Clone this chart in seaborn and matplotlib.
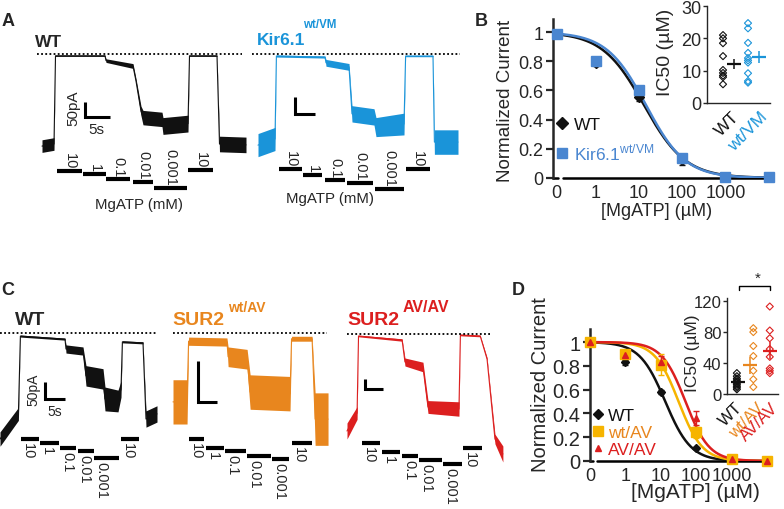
import numpy as np
import matplotlib.pyplot as plt
import seaborn as sns
from matplotlib.lines import Line2D

sns.set_style("ticks")
plt.rcParams["font.family"] = ["Liberation Sans", "DejaVu Sans"]
plt.rcParams["mathtext.fontset"] = "custom"
plt.rcParams["mathtext.rm"] = "Liberation Sans"
plt.rcParams["mathtext.bf"] = "Liberation Sans:bold"

# ---------------- data ----------------
MGATP_MM = ["10", "1", "0.1", "0.01", "0.001", "10"]

# patch-clamp traces: time (s), current (pA), noise half-width (pA)
A_WT_T = [0, 2.4, 2.7, 12.6, 12.8, 18.2, 18.8, 19.8, 20.2, 24.0, 24.2, 29.2, 29.5, 35.0, 35.5, 40.8]
A_WT_I = [-307, -300, -6, -6, -22, -40, -90, -190, -212, -218, -240, -232, -6, -6, -300, -303]
A_WT_N = [21, 21, 2, 2, 6, 8, 8, 16, 24, 24, 28, 28, 2, 2, 26, 26]
A_WT_BARS = [(3.0, 8.0), (8.2, 12.8), (12.8, 17.6), (18.2, 22.2), (22.4, 29.0), (29.2, 34.2)]

A_KIR_T = [0, 4.25, 4.6, 16.75, 17.0, 22.75, 23.5, 29.0, 29.5, 36.5, 36.9, 43.75, 44.1, 50.0]
A_KIR_I = [-268, -250, -6, -9, -26, -38, -176, -185, -215, -206, -6, -6, -259, -259]
A_KIR_N = [34, 34, 3, 3, 10, 10, 24, 24, 28, 32, 2, 2, 36, 36]
A_KIR_BARS = [(5.25, 11.0), (11.25, 16.0), (16.75, 21.75), (22.25, 28.75), (29.25, 36.5), (37.0, 43.0)]

C_WT_T = [0, 4.6, 5.1, 16.25, 16.5, 20.75, 21.5, 25.75, 26.25, 29.5, 30.25, 30.6, 35.75, 36.5, 39.25]
C_WT_I = [-312, -238, -9, -18, -47, -53, -126, -135, -194, -200, -165, -26, -29, -253, -238]
C_WT_N = [21, 19, 3, 3, 12, 12, 30, 30, 35, 32, 24, 3, 3, 24, 24]
C_WT_BARS = [(5.25, 9.75), (10.0, 14.75), (15.0, 19.1), (19.4, 23.4), (23.6, 29.75), (30.25, 34.75)]

C_HET_T = [0, 3.7, 4.1, 14.2, 14.5, 19.5, 20.3, 30.8, 31.2, 36.6, 37.4, 40.8]
C_HET_I = [-84, -84, -10, -11, -29, -32, -72, -74, -7, -7, -105, -105]
C_HET_N = [27, 27, 5, 5, 12, 12, 21, 21, 3, 3, 32, 32]
C_HET_BARS = [(4.2, 8.2), (8.7, 13.4), (13.7, 19.2), (19.5, 25.8), (26.1, 30.5), (31.3, 36.6)]

C_HOM_T = [0, 2.8, 3.2, 15.3, 16.1, 21.1, 22.5, 31.1, 31.5, 37.0, 38.9, 41.1, 43.3]
C_HOM_I = [-485, -395, -10, -30, -140, -165, -365, -375, -5, -10, -125, -525, -600]
C_HOM_N = [40, 32, 4, 6, 20, 24, 32, 36, 4, 4, 8, 24, 40]
C_HOM_BARS = [(4.2, 9.2), (9.7, 14.7), (15.3, 19.7), (20.0, 26.4), (26.7, 31.9), (32.2, 37.5)]

# dose-response (normalized current vs [MgATP] uM)
CONC_UM = [0, 1, 10, 100, 1000, 10000]
B_WT = [0.985, 0.79, 0.555, 0.12, 0.01, 0.005]
B_WT_ERR = [0.01, 0.02, 0.03, 0.03, 0.005, 0.003]
B_KIR = [0.985, 0.80, 0.605, 0.14, 0.01, 0.005]
B_KIR_ERR = [0.01, 0.02, 0.02, 0.02, 0.005, 0.003]
B_WT_FIT = (13.0, 0.9)      # IC50 (uM), Hill coefficient
B_KIR_FIT = (14.5, 0.95)

D_WT = [1.0, 0.83, 0.58, 0.11, 0.01, 0.0]
D_WT_ERR = [0.0, 0.02, 0.02, 0.01, 0.005, 0.0]
D_HET = [1.0, 0.90, 0.81, 0.24, 0.02, 0.0]
D_HET_ERR = [0.0, 0.03, 0.09, 0.05, 0.01, 0.0]
D_HOM = [1.0, 0.89, 0.83, 0.36, 0.02, 0.0]
D_HOM_ERR = [0.0, 0.02, 0.05, 0.06, 0.01, 0.0]
D_WT_FIT = (13.5, 1.2)
D_HET_FIT = (32.0, 1.3)
D_HOM_FIT = (50.0, 1.3)

# IC50 scatter insets (uM)
IC50_B_WT = [21.0, 20.0, 18.5, 14.5, 10.2, 9.3, 8.5, 8.0, 5.8]
IC50_B_KIR = [24.7, 23.1, 18.6, 15.5, 13.9, 13.2, 12.5, 9.2, 6.8, 6.3]
IC50_B_MEAN = [12.0, 14.2]
IC50_B_SEM = [1.6, 1.9]
IC50_D_WT = [27, 23, 20, 18, 16, 14, 12, 10, 8, 6]
IC50_D_HET = [85, 80, 62, 49, 30, 19, 9]
IC50_D_HOM = [113, 82, 72, 58, 48, 33, 30, 27]
IC50_D_MEAN = [16, 37, 56]
IC50_D_SEM = [2, 11, 11]

# ---------------- colours ----------------
BLACK = "#111111"
BLUE = "#1a94d9"
BLUE_FIT = "#4a86d0"
ORANGE = "#e8861e"
YELLOW = "#f6b400"
RED = "#dc1f1f"

W, H = 784, 510
fig = plt.figure(figsize=(W / 100, H / 100), dpi=100)


def add_ax(left, top, right, bottom):
    ax = fig.add_axes([left / W, 1 - bottom / H, (right - left) / W, (bottom - top) / H])
    ax.set_facecolor("none")
    return ax


def ftext(x, y, s, **kw):
    fig.text(x / W, 1 - y / H, s, **kw)


# ---------------- traces (panels A and C) ----------------
TRACES = [
    dict(t=A_WT_T, i=A_WT_I, n=A_WT_N, bars=A_WT_BARS, color=BLACK, box=(30, 48, 255, 225),
         x0=42, y0=55, sx=5.0, sy=0.30, bar_y=[172, 175, 180, 183, 189, 171], above=True,
         dots=(-1, 40), sbar=(8.6, -210)),
    dict(t=A_KIR_T, i=A_KIR_I, n=A_KIR_N, bars=A_KIR_BARS, color=BLUE, box=(250, 48, 465, 225),
         x0=258, y0=55, sx=4.0, sy=0.34, bar_y=[170, 176, 181, 184, 190, 170], above=True,
         dots=(-1.5, 50.5), sbar=(9.25, -176)),
    dict(t=C_WT_T, i=C_WT_I, n=C_WT_N, bars=C_WT_BARS, color=BLACK, box=(0, 328, 165, 510),
         x0=0, y0=334, sx=4.0, sy=0.34, bar_y=[440, 444, 449, 452, 459, 440], above=False,
         dots=(0, 39.25), sbar=(11.25, -194)),
    dict(t=C_HET_T, i=C_HET_I, n=C_HET_N, bars=C_HET_BARS, color=ORANGE, box=(168, 328, 335, 510),
         x0=173, y0=334, sx=3.8, sy=0.82, bar_y=[440, 449, 452, 457, 460, 444], above=False,
         dots=(0, 40.5), sbar=(6.6, -84)),
    dict(t=C_HOM_T, i=C_HOM_I, n=C_HOM_N, bars=C_HOM_BARS, color=RED, box=(340, 328, 510, 510),
         x0=347, y0=335, sx=3.6, sy=0.20, bar_y=[444, 453, 457, 461, 465, 449], above=False,
         dots=(0, 40.3), sbar=(5.0, -275)),
]


def draw_trace(cfg):
    left, top, right, bottom = cfg["box"]
    x0, y0, sx, sy = cfg["x0"], cfg["y0"], cfg["sx"], cfg["sy"]
    ax = add_ax(left, top, right, bottom)
    ax.set_xlim((left - x0) / sx, (right - x0) / sx)
    ax.set_ylim(-(bottom - y0) / sy, -(top - y0) / sy)
    ax.axis("off")
    t = np.array(cfg["t"], float)
    cur = np.array(cfg["i"], float)
    nz = np.array(cfg["n"], float)
    ax.fill_between(t, cur - nz, cur + nz, color=cfg["color"], lw=0)
    ax.plot(t, cur, color=cfg["color"], lw=0.8)
    ax.plot(cfg["dots"], [0, 0], color="k", lw=1.3, ls=(0, (1, 1.3)))

    def py(y):
        return -(y - y0) / sy

    for (t1, t2), yb, lab in zip(cfg["bars"], cfg["bar_y"], MGATP_MM):
        ax.plot([t1, t2], [py(yb), py(yb)], color="k", lw=3, solid_capstyle="butt")
        if cfg["above"]:
            ax.text((t1 + t2) / 2, py(yb - 3), lab, rotation=-90, ha="center", va="bottom", fontsize=10.5)
        else:
            ax.text(t1, py(yb + 3), lab, rotation=-90, ha="left", va="top", fontsize=10.5)
    tb, ib = cfg["sbar"]
    ax.plot([tb, tb, tb + 5], [ib + 50, ib, ib], color="k", lw=2.2, solid_joinstyle="miter",
            solid_capstyle="butt")


for cfg in TRACES:
    draw_trace(cfg)

# trace titles, scale-bar labels, axis notes
ftext(35, 47, "WT", fontsize=12.5, fontweight="bold", va="baseline")
ftext(257, 45, "Kir6.1", fontsize=12.5, fontweight="bold", color=BLUE, va="baseline")
ftext(303, 28, "wt/VM", fontsize=8.3, fontweight="bold", color=BLUE, va="baseline")
ftext(73, 108, "50pA", fontsize=11, rotation=90, ha="center", va="center")
ftext(96, 130, "5s", fontsize=11, ha="center", va="center")
ftext(139, 205, "MgATP (mM)", fontsize=10.8, ha="center", va="center")
ftext(330, 199, "MgATP (mM)", fontsize=10.8, ha="center", va="center")

ftext(15, 325, "WT", fontsize=14, fontweight="bold", va="baseline")
ftext(172, 325, "SUR2", fontsize=14, fontweight="bold", color=ORANGE, va="baseline")
ftext(228, 312, "wt/AV", fontsize=10, fontweight="bold", color=ORANGE, va="baseline")
ftext(347, 325, "SUR2", fontsize=14, fontweight="bold", color=RED, va="baseline")
ftext(403, 312, "AV/AV", fontsize=11.5, fontweight="bold", color=RED, va="baseline")
ftext(33, 390, "50pA", fontsize=10, rotation=90, ha="center", va="center")
ftext(55, 412, "5s", fontsize=10, ha="center", va="center")

for letter, (x, y) in zip("ABCD", [(8, 21), (481, 21), (8, 291), (518, 291)]):
    ftext(x, y, letter, fontsize=13, fontweight="bold", ha="center", va="center")


# ---------------- dose-response panels ----------------
def hill(x, ic50, h):
    return 1.0 / (1.0 + (x / ic50) ** h)


def dose_axes(box, xlim, ylim, zero_pos, gap, tick_fs):
    ax = add_ax(*box)
    ax.set_xscale("log")
    ax.set_xlim(*xlim)
    ax.set_ylim(*ylim)
    sns.despine(ax=ax)
    ax.spines["bottom"].set_visible(False)
    ax.spines["left"].set_linewidth(1.8)
    tr = ax.get_xaxis_transform()
    ax.plot([xlim[0], gap[0]], [0, 0], color="k", lw=1.8, transform=tr, clip_on=False)
    ax.plot([gap[1], xlim[1]], [0, 0], color="k", lw=1.8, transform=tr, clip_on=False)
    ax.set_yticks([0, 0.2, 0.4, 0.6, 0.8, 1.0])
    ax.set_yticklabels(["0", "0.2", "0.4", "0.6", "0.8", "1"], fontsize=tick_fs[1])
    ax.set_xticks([zero_pos, 1, 10, 100, 1000])
    ax.set_xticklabels(["0", "1", "10", "100", "1000"], fontsize=tick_fs[0])
    ax.minorticks_off()
    ax.tick_params(axis="y", length=5, width=1.6, pad=2)
    ax.tick_params(axis="x", length=0, pad=4)
    return ax


def dose_series(ax, zero_pos, vals, err, fit, color, fit_color, marker, ms):
    x = np.array([zero_pos if c == 0 else c for c in CONC_UM], float)
    xs = np.logspace(np.log10(zero_pos), 4, 200)
    sns.lineplot(x=xs, y=hill(xs, *fit), color=fit_color, lw=1.8, ax=ax, zorder=2)
    ax.errorbar(x, vals, yerr=err, fmt=marker, color=color, ms=ms, elinewidth=1, capsize=2,
                clip_on=False, zorder=3)


# panel B
zB = 0.125
axB = dose_axes((553, 20, 770, 179), (10 ** -0.99, 10 ** 4.03), (0, 1.09), zB, (0.135, 0.175), (13, 13))
dose_series(axB, zB, B_WT, B_WT_ERR, B_WT_FIT, BLACK, BLACK, "D", 5)
dose_series(axB, zB, B_KIR, B_KIR_ERR, B_KIR_FIT, BLUE_FIT, BLUE_FIT, "s", 7)
legB = axB.legend([Line2D([], [], ls="none", marker="D", color=BLACK, ms=6),
                   Line2D([], [], ls="none", marker="s", color=BLUE_FIT, ms=7)],
                  ["WT", "Kir6.1$^{\\mathregular{wt/VM}}$"],
                  loc="upper left", bbox_to_anchor=(555 / W, 1 - 118 / H), bbox_transform=fig.transFigure,
                  frameon=False, fontsize=12.5, handlelength=0.8, handletextpad=0.3,
                  labelspacing=0.55, borderpad=0, borderaxespad=0)
for txt, c in zip(legB.get_texts(), [BLACK, BLUE_FIT]):
    txt.set_color(c)
ftext(505, 101, "Normalized Current", fontsize=13.5, rotation=90, ha="center", va="center")
ftext(657, 212, "[MgATP] (µM)", fontsize=13, ha="center", va="center")

# panel D
zD = 0.105
axD = dose_axes((590, 330, 770, 462), (10 ** -0.99, 10 ** 4.08), (0, 1.11), zD, (0.125, 0.165), (13, 14.5))
dose_series(axD, zD, D_WT, D_WT_ERR, D_WT_FIT, BLACK, BLACK, "D", 4.5)
dose_series(axD, zD, D_HET, D_HET_ERR, D_HET_FIT, YELLOW, YELLOW, "s", 6.5)
dose_series(axD, zD, D_HOM, D_HOM_ERR, D_HOM_FIT, RED, RED, "^", 5)
legD = axD.legend([Line2D([], [], ls="none", marker="D", color=BLACK, ms=5),
                   Line2D([], [], ls="none", marker="s", color=YELLOW, ms=7),
                   Line2D([], [], ls="none", marker="^", color=RED, ms=5)],
                  ["WT", "wt/AV", "AV/AV"],
                  loc="upper left", bbox_to_anchor=(591 / W, 1 - 409 / H), bbox_transform=fig.transFigure,
                  frameon=False, fontsize=12.5, handlelength=0.8, handletextpad=0.2,
                  labelspacing=0.1, borderpad=0, borderaxespad=0)
for txt, c in zip(legD.get_texts(), [BLACK, ORANGE, RED]):
    txt.set_color(c)
ftext(541, 385, "Normalized Current", fontsize=14.5, rotation=90, ha="center", va="center")
ftext(695, 493, "[MgATP] (µM)", fontsize=15, ha="center", va="center")


# ---------------- IC50 insets ----------------
def ic50_inset(box, ylim, xlim, groups, colors, mean_x, means, sems, yticks, tick_x, labels, fs, lab_fs):
    ax = add_ax(*box)
    sns.despine(ax=ax)
    ax.spines["left"].set_linewidth(1.0)
    ax.spines["bottom"].set_linewidth(1.0)
    ax.set_ylim(*ylim)
    ax.set_xlim(*xlim)
    for k, (vals, c) in enumerate(zip(groups, colors)):
        ax.scatter([k] * len(vals), vals, marker="D", s=13, facecolors="none", edgecolors=c,
                   linewidths=0.8, zorder=3)
    for x, m, s, c in zip(mean_x, means, sems, colors):
        ax.errorbar([x], [m], yerr=[s], fmt="_", color=c, ms=10, mew=1.6, elinewidth=1.1, capsize=0,
                    zorder=4)
    ax.set_yticks(yticks)
    ax.set_yticklabels([str(v) for v in yticks], fontsize=fs)
    ax.set_xticks(tick_x)
    ax.set_xticklabels(labels, fontsize=lab_fs, rotation=45, ha="right", va="top", rotation_mode="anchor")
    for lab, c in zip(ax.get_xticklabels(), colors):
        lab.set_color(c)
    ax.tick_params(axis="x", length=0, pad=4)
    ax.tick_params(axis="y", length=3, width=1, pad=1)
    return ax


axBi = ic50_inset((707, 7, 770, 104), (0, 30), (-0.64, 1.88), [IC50_B_WT, IC50_B_KIR], [BLACK, BLUE],
                  [0.45, 1.45], IC50_B_MEAN, IC50_B_SEM, [0, 10, 20, 30], [0.36, 1.48], ["WT", "wt/VM"],
                  13, 12.5)
ftext(665, 52, "IC50 (µM)", fontsize=14, rotation=90, ha="center", va="center")

axDi = ic50_inset((727, 299, 778, 395), (0, 124), (-0.6, 2.5), [IC50_D_WT, IC50_D_HET, IC50_D_HOM],
                  [BLACK, ORANGE, RED], [0.05, 0.8, 2.0], IC50_D_MEAN, IC50_D_SEM, [0, 40, 80, 120],
                  [-0.11, 1.16, 2.05], ["WT", "wt/AV", "AV/AV"], 12, 12)
axDi.plot([0.12, 0.12, 2.0, 2.0], [134, 139.5, 139.5, 134], color="k", lw=1, clip_on=False)
axDi.text(1.27, 141, "*", ha="center", va="bottom", fontsize=11)
ftext(692, 353, "IC50 (µM)", fontsize=12.5, rotation=90, ha="center", va="center")

fig.savefig("out.png", dpi=100)
